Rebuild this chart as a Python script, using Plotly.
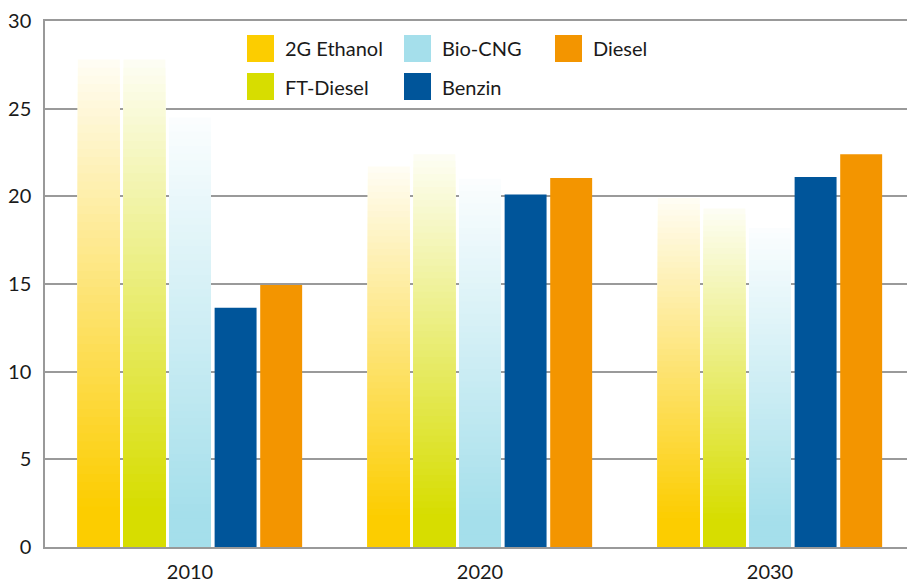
import plotly.graph_objects as go

years = ["2010", "2020", "2030"]
series_names = ["2G Ethanol", "FT-Diesel", "Bio-CNG", "Benzin", "Diesel"]
ethanol_2g = [27.8, 21.7, 19.9]
ft_diesel = [27.8, 22.4, 19.3]
bio_cng = [24.5, 21.0, 18.2]
benzin = [13.65, 20.1, 21.1]
diesel = [14.95, 21.05, 22.4]
y_ticks = [0, 5, 10, 15, 20, 25, 30]

colors = {
    "2G Ethanol": "#FCCD00",
    "FT-Diesel": "#D7DD00",
    "Bio-CNG": "#A5DFEB",
    "Benzin": "#00559A",
    "Diesel": "#F39500",
}
gradient = {"2G Ethanol": True, "FT-Diesel": True, "Bio-CNG": True, "Benzin": False, "Diesel": False}
values = {"2G Ethanol": ethanol_2g, "FT-Diesel": ft_diesel, "Bio-CNG": bio_cng,
          "Benzin": benzin, "Diesel": diesel}

FONT = "Lato, 'Open Sans', sans-serif"


def hex_to_rgb(h):
    h = h.lstrip("#")
    return tuple(int(h[i:i + 2], 16) for i in (0, 2, 4))


def mix_white(h, f):
    r, g, b = hex_to_rgb(h)
    return "rgb(%d,%d,%d)" % (round(r + (255 - r) * f), round(g + (255 - g) * f), round(b + (255 - b) * f))


fig = go.Figure()
N = 60
for name in series_names:
    vals = values[name]
    if gradient[name]:
        # tallest (lightest) first, then progressively shorter, darker bars on top
        for k in range(N):
            frac = (N - k) / N
            t = (N - k - 0.5) / N
            f = min(max((t - 0.08) / 0.92, 0.0), 1.0) * 0.96
            fig.add_trace(go.Bar(
                x=years, y=[v * frac for v in vals], base=[0, 0, 0],
                marker=dict(color=mix_white(colors[name], f), line=dict(width=0)),
                offsetgroup=name, name=name, showlegend=False,
                hoverinfo="skip" if k > 0 else None,
                customdata=vals,
                hovertemplate="%{x}: %{customdata}<extra>" + name + "</extra>" if k == 0 else None,
            ))
    else:
        fig.add_trace(go.Bar(
            x=years, y=vals, marker=dict(color=colors[name], line=dict(width=0)),
            offsetgroup=name, name=name, showlegend=False,
        ))

# page has an 8px body margin; size the figure so the plot area lands where the reference has it
OFF = 8
W, H = 915 - OFF, 583 - OFF
ml, mr, mt, mb = 45 - OFF, 0, 21 - OFF, 36
pw, ph = W - ml - mr, H - mt - mb


def px_to_paper_x(px):
    return (px - OFF - ml) / pw


def px_to_paper_y(py):
    return (H - mb - (py - OFF)) / ph


# manual legend (large square swatches), positions in page pixels
legend_layout = [
    ("2G Ethanol", 247, 35), ("Bio-CNG", 404, 35), ("Diesel", 555, 35),
    ("FT-Diesel", 247, 73), ("Benzin", 404, 73),
]
shapes = []
annotations = []
for name, lx, ly in legend_layout:
    shapes.append(dict(type="rect", xref="paper", yref="paper",
                       x0=px_to_paper_x(lx), x1=px_to_paper_x(lx + 27),
                       y0=px_to_paper_y(ly + 27), y1=px_to_paper_y(ly),
                       fillcolor=colors[name], line=dict(width=0), layer="above"))
    annotations.append(dict(xref="paper", yref="paper", x=px_to_paper_x(lx + 36),
                            y=px_to_paper_y(ly + 13.5), xanchor="left", yanchor="middle",
                            text=name, showarrow=False,
                            font=dict(family=FONT, size=20, color="#1a1a1a")))

fig.update_layout(
    width=W, height=H,
    margin=dict(l=ml, r=mr, t=mt, b=mb, pad=0, autoexpand=False),
    paper_bgcolor="white", plot_bgcolor="white",
    barmode="group", bargap=0.214, bargroupgap=0.08,
    showlegend=False,
    shapes=shapes, annotations=annotations,
    font=dict(family=FONT, size=19, color="#1a1a1a"),
)
fig.update_xaxes(
    showline=True, linecolor="#999999", linewidth=1.5, mirror=True,
    showgrid=False, ticks="", ticklabelstandoff=6, automargin=False,
    tickfont=dict(family=FONT, size=20, color="#1a1a1a"),
)
fig.update_yaxes(
    range=[0, 30], tickvals=y_ticks, showgrid=True, gridcolor="#9a9a9a", gridwidth=1.5,
    showline=True, linecolor="#999999", linewidth=1.5, zeroline=False,
    ticks="", ticklabelstandoff=8, automargin=False,
    tickfont=dict(family=FONT, size=20, color="#1a1a1a"),
)

fig.write_html("out.html")
